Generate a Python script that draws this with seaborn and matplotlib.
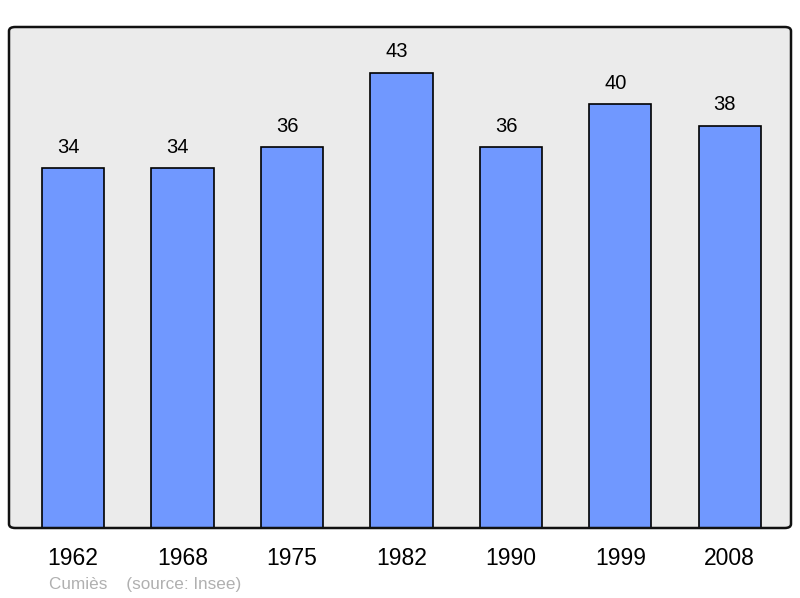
import pandas as pd
import numpy as np
import seaborn as sns
import matplotlib.pyplot as plt
import matplotlib.patches as mpatches

# data
years = ['1962', '1968', '1975', '1982', '1990', '1999', '2008']
population = [34, 34, 36, 43, 36, 40, 38]
footer = 'Cumiès    (source: Insee)'

df = pd.DataFrame({'year': years, 'pop': population})

plt.rcParams['font.family'] = ['Liberation Sans', 'DejaVu Sans']

fig = plt.figure(figsize=(8, 5.98), dpi=100)
ax = fig.add_axes([9 / 800, 70 / 598, 782 / 800, 501 / 598])
ax.set_facecolor('#ebebeb')

sns.barplot(data=df, x='year', y='pop', color='#7098ff', saturation=1,
            edgecolor='black', linewidth=1.2, width=0.57, ax=ax)

ax.set_ylim(0, 47.3)
ax.set_xlim(-0.585, 6.56)
ax.set_yticks([])
ax.set_xlabel('')
ax.set_ylabel('')
ax.tick_params(axis='x', length=0, labelsize=16.5, pad=14)
for s in ax.spines.values():
    s.set_visible(False)

# rounded frame
frame = mpatches.FancyBboxPatch((0, 0), 1, 1, boxstyle='round,pad=0,rounding_size=0.008',
                                transform=ax.transAxes, facecolor='none',
                                edgecolor='#111111', linewidth=1.8, clip_on=False, zorder=5)
ax.add_patch(frame)

for i, v in enumerate(population):
    ax.annotate(str(v), (i, v), xytext=(-3.5, 8), textcoords='offset points',
                ha='center', va='bottom', fontsize=14.5)

fig.text(49 / 800, 1 - 584 / 598, footer, color='#b0b0b0', fontsize=12.3,
         ha='left', va='center')

fig.savefig('out.png', dpi=100)
